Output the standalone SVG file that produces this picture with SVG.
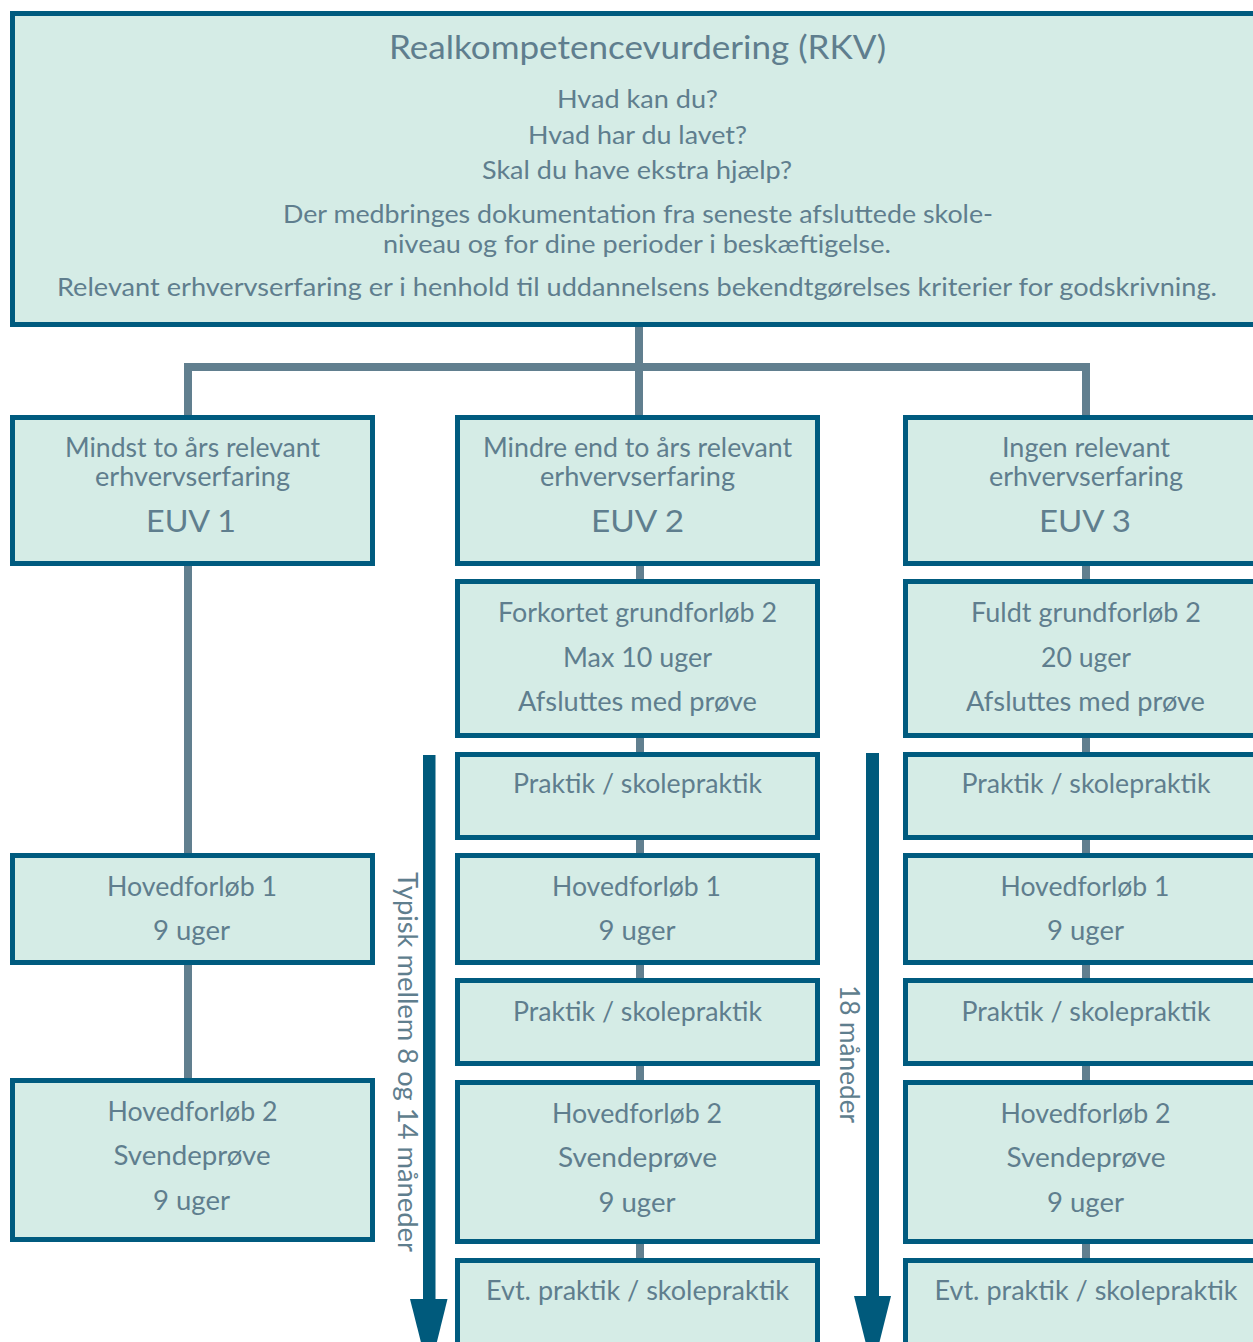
<svg xmlns="http://www.w3.org/2000/svg" width="1253" height="1342" viewBox="0 0 1253 1342">
<style>
.box{fill:#d5ece6;stroke:#005b7f;stroke-width:5}
.t{font-family:Lato,"Open Sans","Noto Sans",sans-serif;fill:#5f7e8e;text-anchor:middle}
.s{font-size:26px}
.h{font-size:25px}
.big{font-size:32px}
.euv{font-size:31px}
.con{stroke:#617f8f;stroke-width:8;fill:none}
.arr{fill:#005a7c}
</style>
<rect width="1253" height="1342" fill="#ffffff"/>
<g id="connectors">
<line class="con" x1="639" y1="327" x2="639" y2="415"/>
<line class="con" x1="184" y1="367" x2="1090" y2="367"/>
<line class="con" x1="188" y1="363" x2="188" y2="415"/>
<line class="con" x1="1086" y1="363" x2="1086" y2="415"/>
<line class="con" x1="188" y1="566" x2="188" y2="853"/>
<line class="con" x1="188" y1="965" x2="188" y2="1078"/>
<line class="con" x1="640" y1="566" x2="640" y2="1258"/>
<line class="con" x1="1086" y1="566" x2="1086" y2="1258"/>
</g>
<g id="rkv">
<rect class="box" x="12.5" y="13.5" width="1262" height="311"/>
<text class="t big" x="637.5" y="59" textLength="497" lengthAdjust="spacingAndGlyphs">Realkompetencevurdering (RKV)</text>
<text class="t h" x="637.5" y="108" textLength="161" lengthAdjust="spacingAndGlyphs">Hvad kan du?</text>
<text class="t h" x="637.5" y="144" textLength="219" lengthAdjust="spacingAndGlyphs">Hvad har du lavet?</text>
<text class="t h" x="637" y="179" textLength="310" lengthAdjust="spacingAndGlyphs">Skal du have ekstra hjælp?</text>
<text class="t h" x="638" y="223" textLength="710" lengthAdjust="spacingAndGlyphs">Der medbringes dokumentation fra seneste afsluttede skole-</text>
<text class="t h" x="637" y="253" textLength="508" lengthAdjust="spacingAndGlyphs">niveau og for dine perioder i beskæftigelse.</text>
<text class="t h" x="637" y="296" textLength="1160" lengthAdjust="spacingAndGlyphs">Relevant erhvervserfaring er i henhold til uddannelsens bekendtgørelses kriterier for godskrivning.</text>
</g>
<g id="euv1">
<rect class="box" x="12.5" y="417.5" width="360" height="146"/>
<text class="t s" x="192.5" y="457" textLength="255" lengthAdjust="spacingAndGlyphs">Mindst to års relevant</text>
<text class="t s" x="192.5" y="486" textLength="195" lengthAdjust="spacingAndGlyphs">erhvervserfaring</text>
<text class="t euv" x="191" y="532" textLength="90" lengthAdjust="spacingAndGlyphs">EUV 1</text>
</g>
<g id="euv2">
<rect class="box" x="457.5" y="417.5" width="360" height="146"/>
<text class="t s" x="637.5" y="457" textLength="309" lengthAdjust="spacingAndGlyphs">Mindre end to års relevant</text>
<text class="t s" x="637.5" y="486" textLength="195" lengthAdjust="spacingAndGlyphs">erhvervserfaring</text>
<text class="t euv" x="637.5" y="532" textLength="93" lengthAdjust="spacingAndGlyphs">EUV 2</text>
</g>
<g id="euv3">
<rect class="box" x="905.5" y="417.5" width="360" height="146"/>
<text class="t s" x="1086" y="457" textLength="168" lengthAdjust="spacingAndGlyphs">Ingen relevant</text>
<text class="t s" x="1086" y="486" textLength="194" lengthAdjust="spacingAndGlyphs">erhvervserfaring</text>
<text class="t euv" x="1085" y="532" textLength="92" lengthAdjust="spacingAndGlyphs">EUV 3</text>
</g>
<g id="grund2">
<rect class="box" x="457.5" y="581.5" width="360" height="154"/>
<text class="t s" x="637.5" y="621.5" textLength="279" lengthAdjust="spacingAndGlyphs">Forkortet grundforløb 2</text>
<text class="t s" x="637.5" y="666.5" textLength="149" lengthAdjust="spacingAndGlyphs">Max 10 uger</text>
<text class="t s" x="637.5" y="711" textLength="239" lengthAdjust="spacingAndGlyphs">Afsluttes med prøve</text>
</g>
<g id="grund3">
<rect class="box" x="905.5" y="581.5" width="360" height="154"/>
<text class="t s" x="1086" y="621.5" textLength="230" lengthAdjust="spacingAndGlyphs">Fuldt grundforløb 2</text>
<text class="t s" x="1086" y="666.5" textLength="90" lengthAdjust="spacingAndGlyphs">20 uger</text>
<text class="t s" x="1085.5" y="711" textLength="239" lengthAdjust="spacingAndGlyphs">Afsluttes med prøve</text>
</g>
<g id="praktik1-2">
<rect class="box" x="457.5" y="754.5" width="360" height="83"/>
<text class="t s" x="637.5" y="793" textLength="249" lengthAdjust="spacingAndGlyphs">Praktik / skolepraktik</text>
</g>
<g id="praktik1-3">
<rect class="box" x="905.5" y="754.5" width="360" height="83"/>
<text class="t s" x="1086" y="793" textLength="249" lengthAdjust="spacingAndGlyphs">Praktik / skolepraktik</text>
</g>
<g id="hoved1-1">
<rect class="box" x="12.5" y="855.5" width="360" height="107"/>
<text class="t s" x="192" y="896" textLength="170" lengthAdjust="spacingAndGlyphs">Hovedforløb 1</text>
<text class="t s" x="191.5" y="940" textLength="77" lengthAdjust="spacingAndGlyphs">9 uger</text>
</g>
<g id="hoved1-2">
<rect class="box" x="457.5" y="855.5" width="360" height="107"/>
<text class="t s" x="636.5" y="896" textLength="169" lengthAdjust="spacingAndGlyphs">Hovedforløb 1</text>
<text class="t s" x="637" y="940" textLength="77" lengthAdjust="spacingAndGlyphs">9 uger</text>
</g>
<g id="hoved1-3">
<rect class="box" x="905.5" y="855.5" width="360" height="107"/>
<text class="t s" x="1085" y="896" textLength="169" lengthAdjust="spacingAndGlyphs">Hovedforløb 1</text>
<text class="t s" x="1085.5" y="940" textLength="77" lengthAdjust="spacingAndGlyphs">9 uger</text>
</g>
<g id="praktik2-2">
<rect class="box" x="457.5" y="980.5" width="360" height="83"/>
<text class="t s" x="637.5" y="1021" textLength="249" lengthAdjust="spacingAndGlyphs">Praktik / skolepraktik</text>
</g>
<g id="praktik2-3">
<rect class="box" x="905.5" y="980.5" width="360" height="83"/>
<text class="t s" x="1086" y="1021" textLength="249" lengthAdjust="spacingAndGlyphs">Praktik / skolepraktik</text>
</g>
<g id="hoved2-1">
<rect class="box" x="12.5" y="1080.5" width="360" height="159"/>
<text class="t s" x="192.5" y="1121" textLength="170" lengthAdjust="spacingAndGlyphs">Hovedforløb 2</text>
<text class="t s" x="192" y="1165" textLength="157" lengthAdjust="spacingAndGlyphs">Svendeprøve</text>
<text class="t s" x="191.5" y="1210" textLength="77" lengthAdjust="spacingAndGlyphs">9 uger</text>
</g>
<g id="hoved2-2">
<rect class="box" x="457.5" y="1082.5" width="360" height="159"/>
<text class="t s" x="637" y="1123" textLength="170" lengthAdjust="spacingAndGlyphs">Hovedforløb 2</text>
<text class="t s" x="637.5" y="1167" textLength="159" lengthAdjust="spacingAndGlyphs">Svendeprøve</text>
<text class="t s" x="637" y="1212" textLength="77" lengthAdjust="spacingAndGlyphs">9 uger</text>
</g>
<g id="hoved2-3">
<rect class="box" x="905.5" y="1082.5" width="360" height="159"/>
<text class="t s" x="1085.5" y="1123" textLength="170" lengthAdjust="spacingAndGlyphs">Hovedforløb 2</text>
<text class="t s" x="1086" y="1167" textLength="159" lengthAdjust="spacingAndGlyphs">Svendeprøve</text>
<text class="t s" x="1085.5" y="1212" textLength="77" lengthAdjust="spacingAndGlyphs">9 uger</text>
</g>
<g id="evt-2">
<rect class="box" x="457.5" y="1260.5" width="360" height="95"/>
<text class="t s" x="637.5" y="1300" textLength="303" lengthAdjust="spacingAndGlyphs">Evt. praktik / skolepraktik</text>
</g>
<g id="evt-3">
<rect class="box" x="905.5" y="1260.5" width="360" height="95"/>
<text class="t s" x="1086" y="1300" textLength="303" lengthAdjust="spacingAndGlyphs">Evt. praktik / skolepraktik</text>
</g>
<g id="arrow-euv2">
<rect class="arr" x="423" y="755" width="12.5" height="552"/>
<polygon class="arr" points="410,1299 447.5,1299 429,1374"/>
<text class="t s" transform="translate(398,1062) rotate(90)" x="0" y="0" textLength="380" lengthAdjust="spacingAndGlyphs">Typisk mellem 8 og 14 måneder</text>
</g>
<g id="arrow-euv3">
<rect class="arr" x="866" y="753" width="13" height="550"/>
<polygon class="arr" points="854,1296 891,1296 872.5,1370"/>
<text class="t s" transform="translate(840,1054) rotate(90)" x="0" y="0" textLength="138" lengthAdjust="spacingAndGlyphs">18 måneder</text>
</g>
</svg>
